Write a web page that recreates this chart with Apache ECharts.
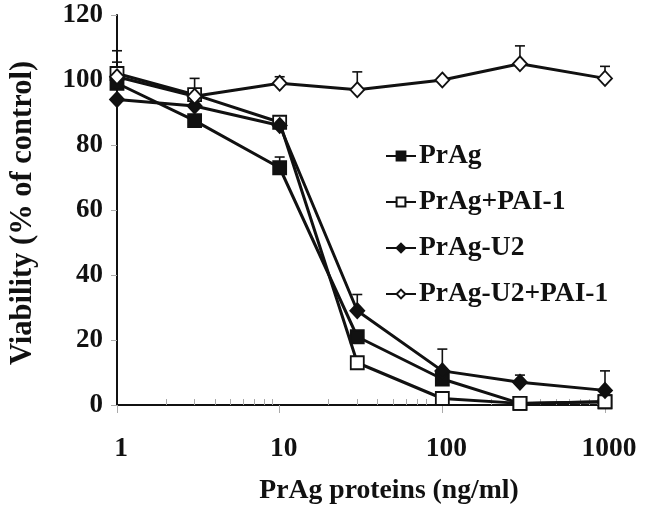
<!DOCTYPE html>
<html>
<head>
<meta charset="utf-8">
<script src="https://cdn.jsdelivr.net/npm/echarts@6/dist/echarts.min.js"></script>
<style>
html,body{margin:0;padding:0;background:#fff;}
#chart{width:645px;height:520px;}
</style>
</head>
<body>
<div id="chart"></div>
<script>
const doses = [1, 3, 10, 30, 100, 300, 1000];
const prag = [99, 87.5, 73, 21, 8, 0.5, 1];
const pragPai = [102, 95.5, 87, 13, 2, 0.5, 1];
const pragU2 = [94, 92, 86, 29, 10.5, 7, 4.5];
const pragU2Pai = [101, 95, 99, 97, 100, 105, 100.5];

const pragErr = [0, 0, 3.3, 0, 0, 0, 0];
const pragPaiErr = [3.5, 0, 0, 0, 0, 0, 0];
const pragU2Err = [0, 0, 0, 5, 6.7, 2.2, 6];
const pragU2PaiErr = [8, 5.5, 2, 5.5, 0, 5.5, 3.7];

const seriesNames = ['PrAg', 'PrAg+PAI-1', 'PrAg-U2', 'PrAg-U2+PAI-1'];
const xTickLabels = ['1', '10', '100', '1000'];

const FONT = '"Liberation Serif", "Times New Roman", serif';

function pts(vals) { return doses.map((d, i) => [d, vals[i]]); }
function errPts(vals, errs) {
  const out = [];
  doses.forEach((d, i) => { if (errs[i] > 0) out.push([d, vals[i], errs[i]]); });
  return out;
}

function errSeries(vals, errs) {
  return {
    type: 'custom',
    silent: true,
    z: 1,
    data: errPts(vals, errs),
    renderItem: function (params, api) {
      const x = api.value(0), y = api.value(1), e = api.value(2);
      const base = api.coord([x, y]);
      const top = api.coord([x, y + e]);
      const hw = 5;
      return {
        type: 'group',
        children: [
          { type: 'line', shape: { x1: base[0], y1: base[1], x2: top[0], y2: top[1] }, style: { stroke: '#111', lineWidth: 1.6 } },
          { type: 'line', shape: { x1: top[0] - hw, y1: top[1], x2: top[0] + hw, y2: top[1] }, style: { stroke: '#111', lineWidth: 1.6 } }
        ]
      };
    }
  };
}

function lineSeries(name, vals, symbol, fill) {
  return {
    name: name,
    type: 'line',
    data: pts(vals),
    z: 3,
    symbol: symbol,
    symbolSize: symbol === 'rect' ? 13 : [14, 15],
    showAllSymbol: true,
    lineStyle: { color: '#111', width: 3 },
    itemStyle: { color: fill, borderColor: '#111', borderWidth: 1.8 },
    emphasis: { disabled: true }
  };
}

const chart = echarts.init(document.getElementById('chart'), null, { renderer: 'canvas' });
chart.setOption({
  animation: false,
  backgroundColor: '#fff',
  grid: { left: 114, right: 40, top: 15, bottom: 115, containLabel: false },
  legend: {
    data: seriesNames,
    orient: 'vertical',
    left: 380,
    top: 137,
    itemWidth: 30,
    itemHeight: 11,
    itemGap: 18,
    textStyle: { fontFamily: FONT, fontWeight: 'bold', fontSize: 27.5, color: '#111', padding: [0, 0, 0, -2] }
  },
  xAxis: {
    type: 'log',
    logBase: 10,
    min: 1,
    max: 1000,
    name: 'PrAg proteins (ng/ml)',
    nameLocation: 'middle',
    nameGap: 72,
    nameTextStyle: { fontFamily: FONT, fontWeight: 'bold', fontSize: 27.7, color: '#111', padding: [0, 0, 0, 56] },
    axisLine: { show: true, onZero: false, lineStyle: { color: '#111', width: 2 } },
    axisTick: { show: true, inside: false, length: 8, lineStyle: { color: '#aaa', width: 1 } },
    minorTick: { show: true, splitNumber: 9, length: -6, lineStyle: { color: '#aaa', width: 1 } },
    axisLabel: { fontFamily: FONT, fontWeight: 'bold', fontSize: 27.5, color: '#111', margin: 30, padding: [0, 0, 0, 8],
      formatter: function (v) { const s = String(Math.round(v)); return xTickLabels.indexOf(s) >= 0 ? s : ''; } },
    splitLine: { show: false },
    minorSplitLine: { show: false }
  },
  yAxis: {
    type: 'value',
    min: 0,
    max: 120,
    interval: 20,
    name: 'Viability (% of control)',
    nameLocation: 'middle',
    nameGap: 78,
    nameTextStyle: { fontFamily: FONT, fontWeight: 'bold', fontSize: 30.5, color: '#111', padding: [0, 6, 0, 0] },
    axisLine: { show: true, lineStyle: { color: '#111', width: 2 } },
    axisTick: { show: true, inside: false, length: 6, lineStyle: { color: '#aaa', width: 1 } },
    axisLabel: { fontFamily: FONT, fontWeight: 'bold', fontSize: 27, color: '#111', margin: 14 },
    splitLine: { show: false }
  },
  series: [
    errSeries(prag, pragErr),
    errSeries(pragPai, pragPaiErr),
    errSeries(pragU2, pragU2Err),
    errSeries(pragU2Pai, pragU2PaiErr),
    lineSeries('PrAg', prag, 'rect', '#111'),
    lineSeries('PrAg+PAI-1', pragPai, 'rect', '#fff'),
    lineSeries('PrAg-U2', pragU2, 'diamond', '#111'),
    lineSeries('PrAg-U2+PAI-1', pragU2Pai, 'diamond', '#fff')
  ]
});
</script>
</body>
</html>
